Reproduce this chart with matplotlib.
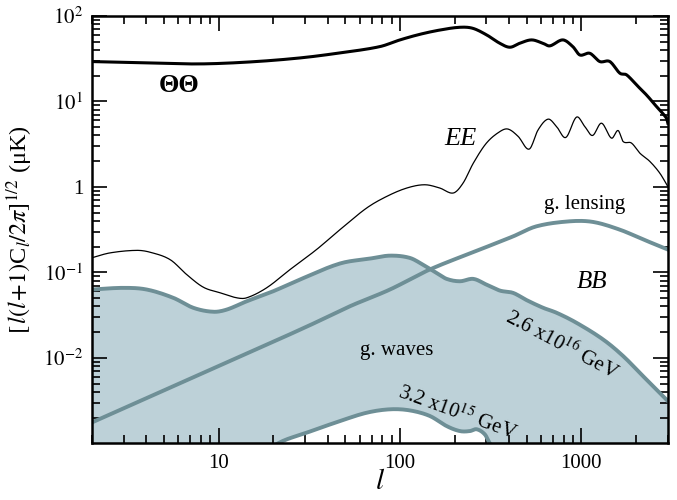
import matplotlib
matplotlib.use("Agg")
import matplotlib.pyplot as plt
import numpy as np
from matplotlib.ticker import FixedLocator, FixedFormatter, LogLocator, NullFormatter

plt.rcParams['font.family'] = ['Liberation Serif', 'DejaVu Serif']
plt.rcParams['mathtext.fontset'] = 'stix'

# ---- Temperature (TT) spectrum ----
tt_l = [2.0, 4.2, 7.9, 14.9, 28.1, 46.7, 77.4, 100, 129, 166, 214, 252, 301, 355, 404,
        458, 532, 614, 670, 791, 898, 981, 1114, 1265, 1436, 1631, 1775, 2015, 2288,
        2597, 2947, 3000]
tt_v = [29.3, 28.2, 27.5, 29.0, 32.3, 37.0, 43.8, 52.5, 61.1, 68.5, 73.8, 71.8, 60.0,
        48.0, 43.1, 48.0, 52.5, 48.0, 44.7, 52.5, 43.8, 35.0, 36.6, 29.3, 29.3, 21.4,
        20.5, 15.6, 11.9, 8.72, 6.38, 5.57]

# ---- E-mode polarization ----
ee_l = [2.0, 2.52, 3.54, 4.2, 5.41, 6.68, 8.25, 10.2, 12.6, 14.3, 18.4, 24.8, 34.7,
        46.7, 65.6, 84.5, 109, 137, 166, 197, 223, 254, 300, 356, 395, 449, 516, 578,
        656, 730, 821, 941, 1045, 1153, 1292, 1467, 1595, 1700, 1890, 2100, 2385, 2708,
        3000]
ee_v = [0.148, 0.169, 0.181, 0.172, 0.141, 0.0942, 0.067, 0.0577, 0.0504, 0.0504,
        0.0659, 0.108, 0.185, 0.316, 0.567, 0.774, 0.97, 1.06, 0.97, 0.849, 1.11, 1.9,
        3.26, 4.45, 4.75, 3.89, 2.77, 4.66, 6.21, 5.09, 3.79, 6.56, 5.09, 4.0, 5.57,
        3.72, 4.57, 3.4, 3.26, 2.49, 1.99, 1.45, 1.01]

# ---- B-mode from gravitational lensing ----
lens_l = [2.0, 10, 30, 53.1, 88.1, 146, 276, 421, 566, 864, 1162, 1631, 2203, 3000]
lens_v = [0.00175, 0.0080, 0.0227, 0.0402, 0.063, 0.108, 0.185, 0.264, 0.346, 0.396,
          0.389, 0.316, 0.242, 0.185]

# ---- B-mode from gravitational waves (upper: 2.6e16 GeV) ----
gw_hi_l = [2.0, 2.99, 4.02, 5.63, 7.26, 9.36, 11.1, 14.3, 20.0, 28.1, 46.7, 68.4,
           88.1, 113, 134, 159, 181, 214, 254, 300, 356, 421, 499, 616, 730, 941,
           1319, 1700, 2189, 2594, 3000]
gw_hi_v = [0.063, 0.0659, 0.063, 0.0504, 0.0385, 0.0346, 0.0367, 0.0459, 0.0601,
           0.0825, 0.127, 0.145, 0.157, 0.148, 0.123, 0.0986, 0.0839, 0.0787,
           0.0839, 0.0719, 0.0612, 0.0575, 0.0474, 0.0385, 0.0337, 0.0257, 0.0164,
           0.0105, 0.00611, 0.00427, 0.00312]

# ---- B-mode from gravitational waves (lower: 3.2e15 GeV) ----
gw_lo_l = [2.0, 4.0, 9.4, 14.3, 17.5, 21.3, 30.6, 46.7, 65.6, 88.1, 113, 146, 181,
           214, 243, 265, 294, 313, 356, 421, 616, 941, 1700, 3000]
gw_lo_v = [0.0006, 0.0006, 0.0004, 0.0005, 0.0007, 0.001, 0.00133, 0.00182, 0.00228,
           0.0025, 0.00243, 0.00209, 0.00159, 0.00139, 0.00139, 0.00146, 0.00127,
           0.001, 0.0007, 0.0006, 0.0004, 0.0003, 0.0001, 0.00003]

x_ticks = [10, 100, 1000]
x_labels = ['10', '100', '1000']
y_ticks = [1e-2, 1e-1, 1, 1e1, 1e2]
y_labels = [r'$10^{-2}$', r'$10^{-1}$', '1', r'$10^{1}$', r'$10^{2}$']

FILL = '#bdd1d8'
TEAL = '#6e8f96'


def smooth(xs, ys, n=12):
    """Cubic Hermite path through the read points, in log-log space (drawing only)."""
    lx = np.log10(np.asarray(xs, float))
    ly = np.log10(np.asarray(ys, float))
    px = np.concatenate([[2 * lx[0] - lx[1]], lx, [2 * lx[-1] - lx[-2]]])
    py = np.concatenate([[2 * ly[0] - ly[1]], ly, [2 * ly[-1] - ly[-2]]])
    ox, oy = [], []
    t = np.linspace(0, 1, n, endpoint=False)
    for i in range(1, len(px) - 2):
        p0, p1, p2, p3 = px[i - 1], px[i], px[i + 1], px[i + 2]
        q0, q1, q2, q3 = py[i - 1], py[i], py[i + 1], py[i + 2]
        h = p2 - p1
        m1y = (q2 - q0) / (p2 - p0) * h
        m2y = (q3 - q1) / (p3 - p1) * h
        h00 = 2 * t**3 - 3 * t**2 + 1
        h10 = t**3 - 2 * t**2 + t
        h01 = -2 * t**3 + 3 * t**2
        h11 = t**3 - t**2
        ox.append(p1 + t * h)
        oy.append(h00 * q1 + h10 * m1y + h01 * q2 + h11 * m2y)
    ox.append([lx[-1]])
    oy.append([ly[-1]])
    return 10 ** np.concatenate(ox), 10 ** np.concatenate(oy)


fig = plt.figure(figsize=(6.77, 5.0), dpi=100)
ax = fig.add_axes([0.1355, 0.1134, 0.851, 0.8546])
ax.set_xscale('log')
ax.set_yscale('log')

hx, hy = smooth(gw_hi_l, gw_hi_v)
lx_, ly_ = smooth(gw_lo_l, gw_lo_v)
grid = np.unique(np.concatenate([hx, lx_]))
hi_i = 10 ** np.interp(np.log10(grid), np.log10(hx), np.log10(hy))
lo_i = 10 ** np.interp(np.log10(grid), np.log10(lx_), np.log10(ly_))
ax.fill_between(grid, lo_i, hi_i, color=FILL, lw=0, zorder=1)

ax.plot(hx, hy, color=TEAL, lw=2.8, zorder=2)
ax.plot(lx_, ly_, color=TEAL, lw=2.8, zorder=2)
ax.plot(*smooth(lens_l, lens_v), color=TEAL, lw=2.8, zorder=2)
ax.plot(*smooth(ee_l, ee_v), color='black', lw=0.9, zorder=3)
ax.plot(*smooth(tt_l, tt_v), color='black', lw=2.2, zorder=3)

ax.set_xlim(2, 3000)
ax.set_ylim(1e-3, 1e2)

ax.xaxis.set_major_locator(FixedLocator(x_ticks))
ax.xaxis.set_major_formatter(FixedFormatter(x_labels))
ax.xaxis.set_minor_locator(LogLocator(base=10, subs=range(2, 10), numticks=20))
ax.xaxis.set_minor_formatter(NullFormatter())
ax.yaxis.set_major_locator(FixedLocator(y_ticks))
ax.yaxis.set_major_formatter(FixedFormatter(y_labels))
ax.yaxis.set_minor_locator(LogLocator(base=10, subs=range(2, 10), numticks=20))
ax.yaxis.set_minor_formatter(NullFormatter())

ax.tick_params(which='both', direction='in', top=True, right=True, width=1.2)
ax.tick_params(which='major', length=11, labelsize=15)
ax.tick_params(axis='x', which='major', pad=8)
ax.tick_params(axis='y', which='major', pad=6)
ax.tick_params(which='minor', length=6)
for s in ax.spines.values():
    s.set_linewidth(1.8)

ax.set_xlabel(r'$l$', fontsize=21, labelpad=-3)
ax.set_ylabel(r'$[\,l(l\!+\!1)$C$_l/2\pi]^{1/2}$ (μK)', fontsize=17.5, labelpad=6)


def t(px, py, s, **kw):
    ax.text(px / 677, 1 - py / 500, s, transform=fig.transFigure, ha='center', va='center', **kw)


t(179, 85, 'ΘΘ', fontsize=19, fontweight='bold')
t(460, 139, 'EE', fontsize=19, style='italic')
t(585, 205, 'g. lensing', fontsize=15)
t(592, 282, 'BB', fontsize=18, style='italic')
t(397, 350, 'g. waves', fontsize=15)
t(562, 345, r'2.6 x10$^{16}$ GeV', fontsize=15, rotation=-28)
t(457, 413, r'3.2 x10$^{15}$ GeV', fontsize=15, rotation=-20)

fig.savefig('out.png', dpi=100)
